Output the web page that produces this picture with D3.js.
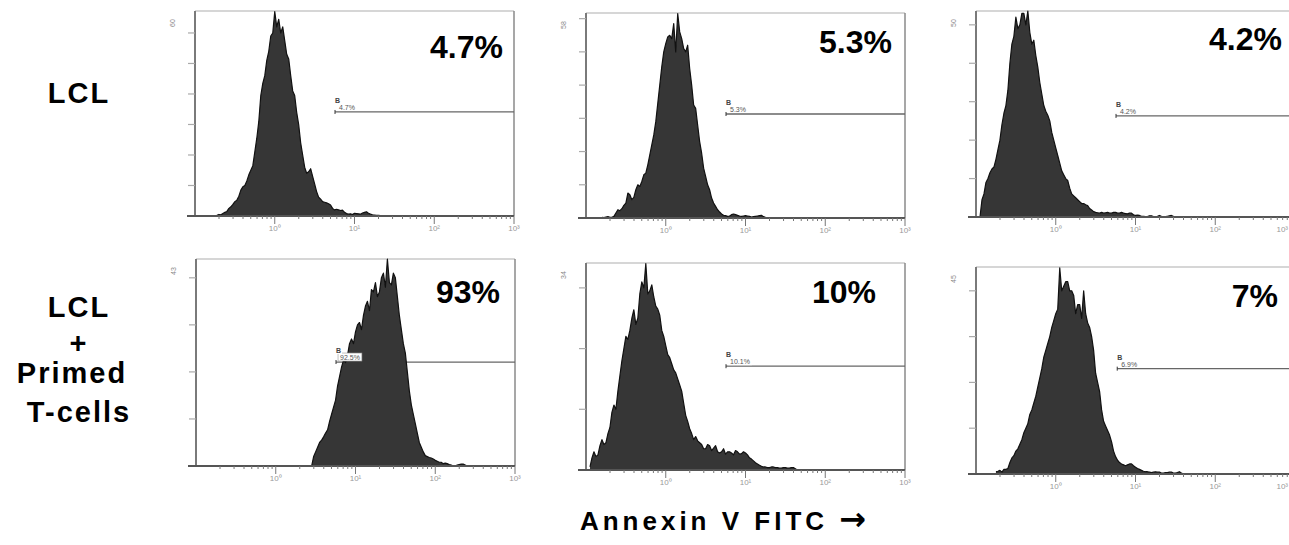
<!DOCTYPE html>
<html>
<head>
<meta charset="utf-8">
<script src="https://cdn.jsdelivr.net/npm/d3@7"></script>
<style>
  body { margin: 0; background: #fff; }
  svg { display: block; font-family: "Liberation Sans", Arial, sans-serif; }
</style>
</head>
<body>
<svg id="chart" width="1289" height="545"></svg>
<script>
// histogram bins: log10 start of first bin, one bin every 0.025 decade
var binStep = 0.025;
var histStart = [-0.75, -0.8, -0.95, 0.45, -0.95, -0.75];

var lclDonor1 = [0, 0.02, 0.05, 0.04, 0.08, 0.12, 0.15, 0.25, 0.3, 0.38, 0.47, 0.52, 0.65, 0.85, 0.96,
  1.0, 1.15, 1.35, 1.5, 1.65, 2.1, 2.55, 3.1, 3.95, 4.35, 4.6, 5.1, 5.4, 5.9, 6.0, 6.7, 6.2, 6.45,
  6.0, 6.2, 5.75, 5.3, 5.15, 4.6, 4.1, 3.95, 3.4, 3.0, 2.4, 2.0, 1.6, 1.4, 1.45, 1.55, 1.3, 1.05,
  0.8, 0.62, 0.55, 0.47, 0.45, 0.43, 0.4, 0.36, 0.25, 0.2, 0.22, 0.2, 0.18, 0.19, 0.12, 0.08, 0.06,
  0.07, 0.05, 0.09, 0.08, 0.07, 0.06, 0.1, 0.12, 0.14, 0.09, 0.06, 0.04, 0.03, 0.02, 0.02, 0.01, 0];
var lclDonor2 = [0.02, 0.01, 0.03, 0.04, 0.02, 0.02, 0.05, 0.15, 0.25, 0.22, 0.28, 0.38, 0.45, 0.75,
  0.7, 0.55, 0.62, 0.85, 1.0, 0.95, 1.1, 1.3, 1.35, 1.6, 1.9, 2.2, 2.5, 2.9, 3.45, 4.0, 4.55, 5.0,
  5.25, 5.45, 5.5, 5.4, 5.85, 5.0, 6.15, 5.6, 5.4, 5.1, 5.0, 5.2, 4.5, 4.0, 3.4, 3.3, 2.8, 2.3, 1.95,
  1.5, 1.25, 1.0, 0.85, 0.6, 0.45, 0.35, 0.25, 0.18, 0.12, 0.08, 0.07, 0.05, 0.06, 0.1, 0.12, 0.1,
  0.08, 0.06, 0.05, 0.06, 0.07, 0.06, 0.05, 0.03, 0.04, 0.05, 0.06, 0.07, 0.08, 0.04, 0.02, 0.01, 0];
var lclDonor3 = [0, 0.45, 0.6, 0.9, 1.0, 1.15, 1.25, 1.3, 1.5, 1.75, 2.0, 2.4, 2.7, 2.9, 3.3, 4.0, 4.5,
  4.7, 5.2, 4.9, 5.0, 5.3, 5.3, 5.0, 5.36, 4.8, 4.5, 4.6, 4.2, 3.9, 3.5, 3.2, 2.9, 2.75, 2.65, 2.5,
  2.2, 2.0, 1.8, 1.6, 1.4, 1.2, 1.1, 1.0, 0.95, 0.75, 0.6, 0.55, 0.5, 0.45, 0.4, 0.35, 0.35, 0.32,
  0.3, 0.22, 0.18, 0.14, 0.12, 0.11, 0.1, 0.12, 0.1, 0.11, 0.12, 0.1, 0.1, 0.12, 0.12, 0.1, 0.1,
  0.12, 0.1, 0.09, 0.08, 0.1, 0.1, 0.06, 0.04, 0.05, 0.04, 0.02, 0.02, 0.01, 0.01, 0.03, 0.03, 0.01,
  0.01, 0.02, 0.04, 0.02, 0.01, 0.01, 0.02, 0.03, 0.04, 0.02, 0.01, 0.01, 0];
var primedDonor1 = [0, 0.2, 0.3, 0.4, 0.5, 0.55, 0.62, 0.7, 0.77, 0.95, 1.1, 1.25, 1.4, 1.7, 1.9, 2.1,
  2.25, 2.2, 2.35, 2.6, 2.7, 2.6, 2.85, 3.0, 3.05, 2.9, 3.2, 3.4, 3.5, 3.3, 3.75, 3.7, 3.9, 3.6, 3.7,
  4.0, 4.1, 3.8, 4.4, 3.9, 3.85, 4.1, 4.0, 3.6, 3.2, 2.9, 2.6, 2.4, 2.0, 1.6, 1.3, 1.1, 0.9, 0.7,
  0.5, 0.4, 0.3, 0.22, 0.2, 0.18, 0.17, 0.15, 0.12, 0.1, 0.08, 0.08, 0.05, 0.06, 0.05, 0.03, 0.02,
  0, 0, 0.02, 0.03, 0.04, 0.04, 0.02, 0];
var primedDonor2 = [0.05, 0.2, 0.3, 0.22, 0.25, 0.4, 0.5, 0.42, 0.45, 0.6, 0.7, 0.95, 1.07, 1.0, 1.3,
  1.55, 1.8, 2.0, 2.2, 2.15, 2.3, 2.5, 2.64, 2.4, 2.5, 2.9, 3.1, 3.0, 3.4, 2.9, 2.95, 3.05, 2.85, 2.7,
  2.65, 2.55, 2.3, 2.2, 2.05, 1.9, 1.85, 1.75, 1.65, 1.6, 1.5, 1.4, 1.3, 1.1, 0.9, 0.8, 0.68, 0.6,
  0.5, 0.55, 0.48, 0.45, 0.42, 0.35, 0.35, 0.42, 0.4, 0.32, 0.36, 0.4, 0.3, 0.28, 0.3, 0.35, 0.26,
  0.3, 0.3, 0.28, 0.25, 0.32, 0.3, 0.26, 0.27, 0.3, 0.28, 0.25, 0.2, 0.18, 0.15, 0.12, 0.1, 0.08,
  0.06, 0.05, 0.05, 0.04, 0.04, 0.05, 0.05, 0.04, 0.04, 0.03, 0.03, 0.04, 0.04, 0.03, 0.03, 0.04,
  0.04, 0.02, 0];
var primedDonor3 = [0.05, 0.06, 0.08, 0.04, 0.1, 0.1, 0.12, 0.25, 0.35, 0.4, 0.5, 0.55, 0.65, 0.75,
  0.9, 1.0, 1.1, 1.3, 1.4, 1.55, 1.7, 1.9, 2.1, 2.3, 2.55, 2.7, 2.85, 3.0, 3.2, 3.35, 3.5, 3.6, 4.5,
  4.0, 4.1, 4.2, 4.2, 4.0, 4.0, 3.9, 3.5, 3.7, 3.7, 3.4, 4.0, 3.5, 3.3, 3.2, 3.0, 2.7, 2.2, 2.0, 1.8,
  1.4, 1.15, 1.05, 0.95, 0.85, 0.7, 0.5, 0.38, 0.3, 0.25, 0.22, 0.2, 0.18, 0.2, 0.22, 0.22, 0.18,
  0.15, 0.12, 0.1, 0.08, 0.06, 0.05, 0.05, 0.04, 0.03, 0.04, 0.05, 0.04, 0.04, 0.02, 0.02, 0.03,
  0.03, 0.04, 0.04, 0.02, 0.02, 0.03, 0.05, 0.02, 0];

var histCounts = [lclDonor1, lclDonor2, lclDonor3, primedDonor1, primedDonor2, primedDonor3];

// y axis (count units) and gate "B"
var yMaxes = [6.72, 6.17, 5.36, 4.4, 3.41, 4.52];
var yTickCounts = [6, 6, 5, 4, 3, 4];
var yTopLabels = ["60", "58", "50", "43", "34", "45"];
var gateStart = [5.7, 5.7, 5.7, 5.7, 5.7, 5.9];
var gateLevel = [3.41, 3.13, 2.63, 2.21, 1.71, 2.3];
var gatePct = ["4.7%", "5.3%", "4.2%", "92.5%", "10.1%", "6.9%"];
var bigPct = ["4.7%", "5.3%", "4.2%", "93%", "10%", "7%"];

var xDomain = [0.1, 1000];
var xMajorLabels = ["10⁰", "10¹", "10²", "10³"];
var rowLabels = [["LCL"], ["LCL", "+", "Primed", "T-cells"]];
var axisTitle = "Annexin V FITC ";

// layout
var W = 1289;
var panelW = 319;
var panelBox = [
  { left: 195, top: 11, bottom: 216, pctX: 503, pctY: 58 },
  { left: 586, top: 13, bottom: 218, pctX: 892, pctY: 53 },
  { left: 976, top: 11, bottom: 217, pctX: 1282, pctY: 50 },
  { left: 196, top: 259, bottom: 466, pctX: 500, pctY: 303 },
  { left: 586, top: 263, bottom: 470, pctX: 876, pctY: 303 },
  { left: 976, top: 267, bottom: 474, pctX: 1278, pctY: 307 }
];

var svg = d3.select("#chart");
svg.append("rect").attr("width", W).attr("height", 545).attr("fill", "#fff");

function drawPanel(i) {
  var box = panelBox[i];
  var g = svg.append("g").attr("class", "panel");
  var right = box.left + panelW;

  var x = d3.scaleLog().domain(xDomain).range([box.left, right]);
  var y = d3.scaleLinear().domain([0, yMaxes[i]]).range([box.bottom, box.top]);

  // frame
  g.append("line").attr("x1", box.left).attr("x2", right).attr("y1", box.top).attr("y2", box.top)
    .attr("stroke", "#c8c8c8").attr("stroke-width", 1.5);
  g.append("line").attr("x1", right).attr("x2", right).attr("y1", box.top).attr("y2", box.bottom)
    .attr("stroke", "#8a8a8a").attr("stroke-width", 1.5);
  g.append("line").attr("x1", box.left).attr("x2", box.left).attr("y1", box.top).attr("y2", box.bottom)
    .attr("stroke", "#7a7a7a").attr("stroke-width", 2);

  // gate line sits under the histogram
  var gy = y(gateLevel[i]);
  var gx = x(gateStart[i]);
  g.append("line").attr("x1", gx).attr("x2", right).attr("y1", gy).attr("y2", gy)
    .attr("stroke", "#666").attr("stroke-width", 1.3);
  g.append("line").attr("x1", gx).attr("x2", gx).attr("y1", gy - 2).attr("y2", gy + 2)
    .attr("stroke", "#333").attr("stroke-width", 1);

  var bins = histCounts[i].map(function(c, k) {
    return { v: Math.pow(10, histStart[i] + k * binStep), c: c };
  });

  var area = d3.area()
    .x(function(d) { return x(d.v); })
    .y0(box.bottom)
    .y1(function(d) { return y(d.c); });
  var line = d3.line()
    .x(function(d) { return x(d.v); })
    .y(function(d) { return y(d.c); });

  g.append("path").datum(bins).attr("d", area).attr("fill", "#363636");
  g.append("path").datum(bins).attr("d", line).attr("fill", "none")
    .attr("stroke", "#111").attr("stroke-width", 1.2).attr("stroke-linejoin", "round");

  // gate labels
  var lbl = g.append("g").attr("transform", "translate(" + gx + "," + gy + ")");
  var pctText = lbl.append("text").attr("x", 4).attr("y", -2)
    .attr("font-size", 7).attr("fill", "#555").text(gatePct[i]);
  var bb = pctText.node().getBBox();
  lbl.insert("rect", "text").attr("x", bb.x - 2).attr("y", bb.y - 1)
    .attr("width", bb.width + 4).attr("height", bb.height + 1).attr("fill", "#fff")
    .attr("stroke", i === 3 ? "#999" : "none").attr("stroke-width", 0.6);
  lbl.append("rect").attr("x", 0).attr("y", -16).attr("width", 6).attr("height", 8).attr("fill", "#fff")
    .attr("opacity", i === 3 ? 1 : 0);
  lbl.append("text").attr("x", 0).attr("y", -9).attr("font-size", 7).attr("font-weight", "bold")
    .attr("fill", "#444").text("B");

  // x axis
  g.append("line").attr("x1", box.left - 8).attr("x2", right).attr("y1", box.bottom).attr("y2", box.bottom)
    .attr("stroke", "#555").attr("stroke-width", 2);
  var ticks = x.ticks().filter(function(t) { return t > xDomain[0]; });
  g.selectAll("line.xt").data(ticks).enter().append("line").attr("class", "xt")
    .attr("x1", function(d) { return x(d); })
    .attr("x2", function(d) { return x(d); })
    .attr("y1", box.bottom)
    .attr("y2", function(d) {
      return Number.isInteger(Math.log10(d)) ? box.bottom + 8 : box.bottom + 3;
    })
    .attr("stroke", "#777").attr("stroke-width", 1);
  g.selectAll("text.xl").data(xMajorLabels).enter().append("text").attr("class", "xl")
    .attr("x", function(d, k) { return Math.min(x(Math.pow(10, k)), W - 1); })
    .attr("y", box.bottom + 15)
    .attr("text-anchor", function(d, k) { return x(Math.pow(10, k)) > W - 8 ? "end" : "middle"; })
    .attr("font-size", 8).attr("fill", "#999")
    .text(function(d) { return d; });

  // y axis ticks pointing out to the left
  var yt = d3.range(1, yTickCounts[i] + 1);
  g.selectAll("line.yt").data(yt).enter().append("line").attr("class", "yt")
    .attr("x1", box.left - 7).attr("x2", box.left)
    .attr("y1", function(d) { return y(d); })
    .attr("y2", function(d) { return y(d); })
    .attr("stroke", "#aaa").attr("stroke-width", 1.2);
  g.append("text")
    .attr("transform", "translate(" + (box.left - 20) + "," + (box.top + 12) + ") rotate(-90)")
    .attr("text-anchor", "middle").attr("font-size", 7).attr("fill", "#888")
    .text(yTopLabels[i]);

  // big percentage
  g.append("text").attr("x", box.pctX).attr("y", box.pctY)
    .attr("text-anchor", "end").attr("font-size", 32).attr("font-weight", "bold")
    .attr("fill", "#000").text(bigPct[i]);
}

d3.range(6).forEach(drawPanel);

// row labels
var rowBaselines = [[103], [317, 353, 383, 422]];
var rowCenters = [[79], [79, 79, 72, 79]];
rowLabels.forEach(function(lines, r) {
  lines.forEach(function(t, k) {
    svg.append("text").attr("x", rowCenters[r][k]).attr("y", rowBaselines[r][k])
      .attr("text-anchor", "middle").attr("font-size", 29)
      .attr("font-weight", "bold").attr("letter-spacing", 2).text(t);
  });
});

var title = svg.append("text").attr("x", 723).attr("y", 530).attr("text-anchor", "middle")
  .attr("font-size", 26).attr("font-weight", "bold").attr("letter-spacing", 4);
title.append("tspan").text(axisTitle);
title.append("tspan").attr("font-family", "DejaVu Sans").attr("font-size", 32)
  .attr("letter-spacing", 0).text("\u2192");
</script>
</body>
</html>
